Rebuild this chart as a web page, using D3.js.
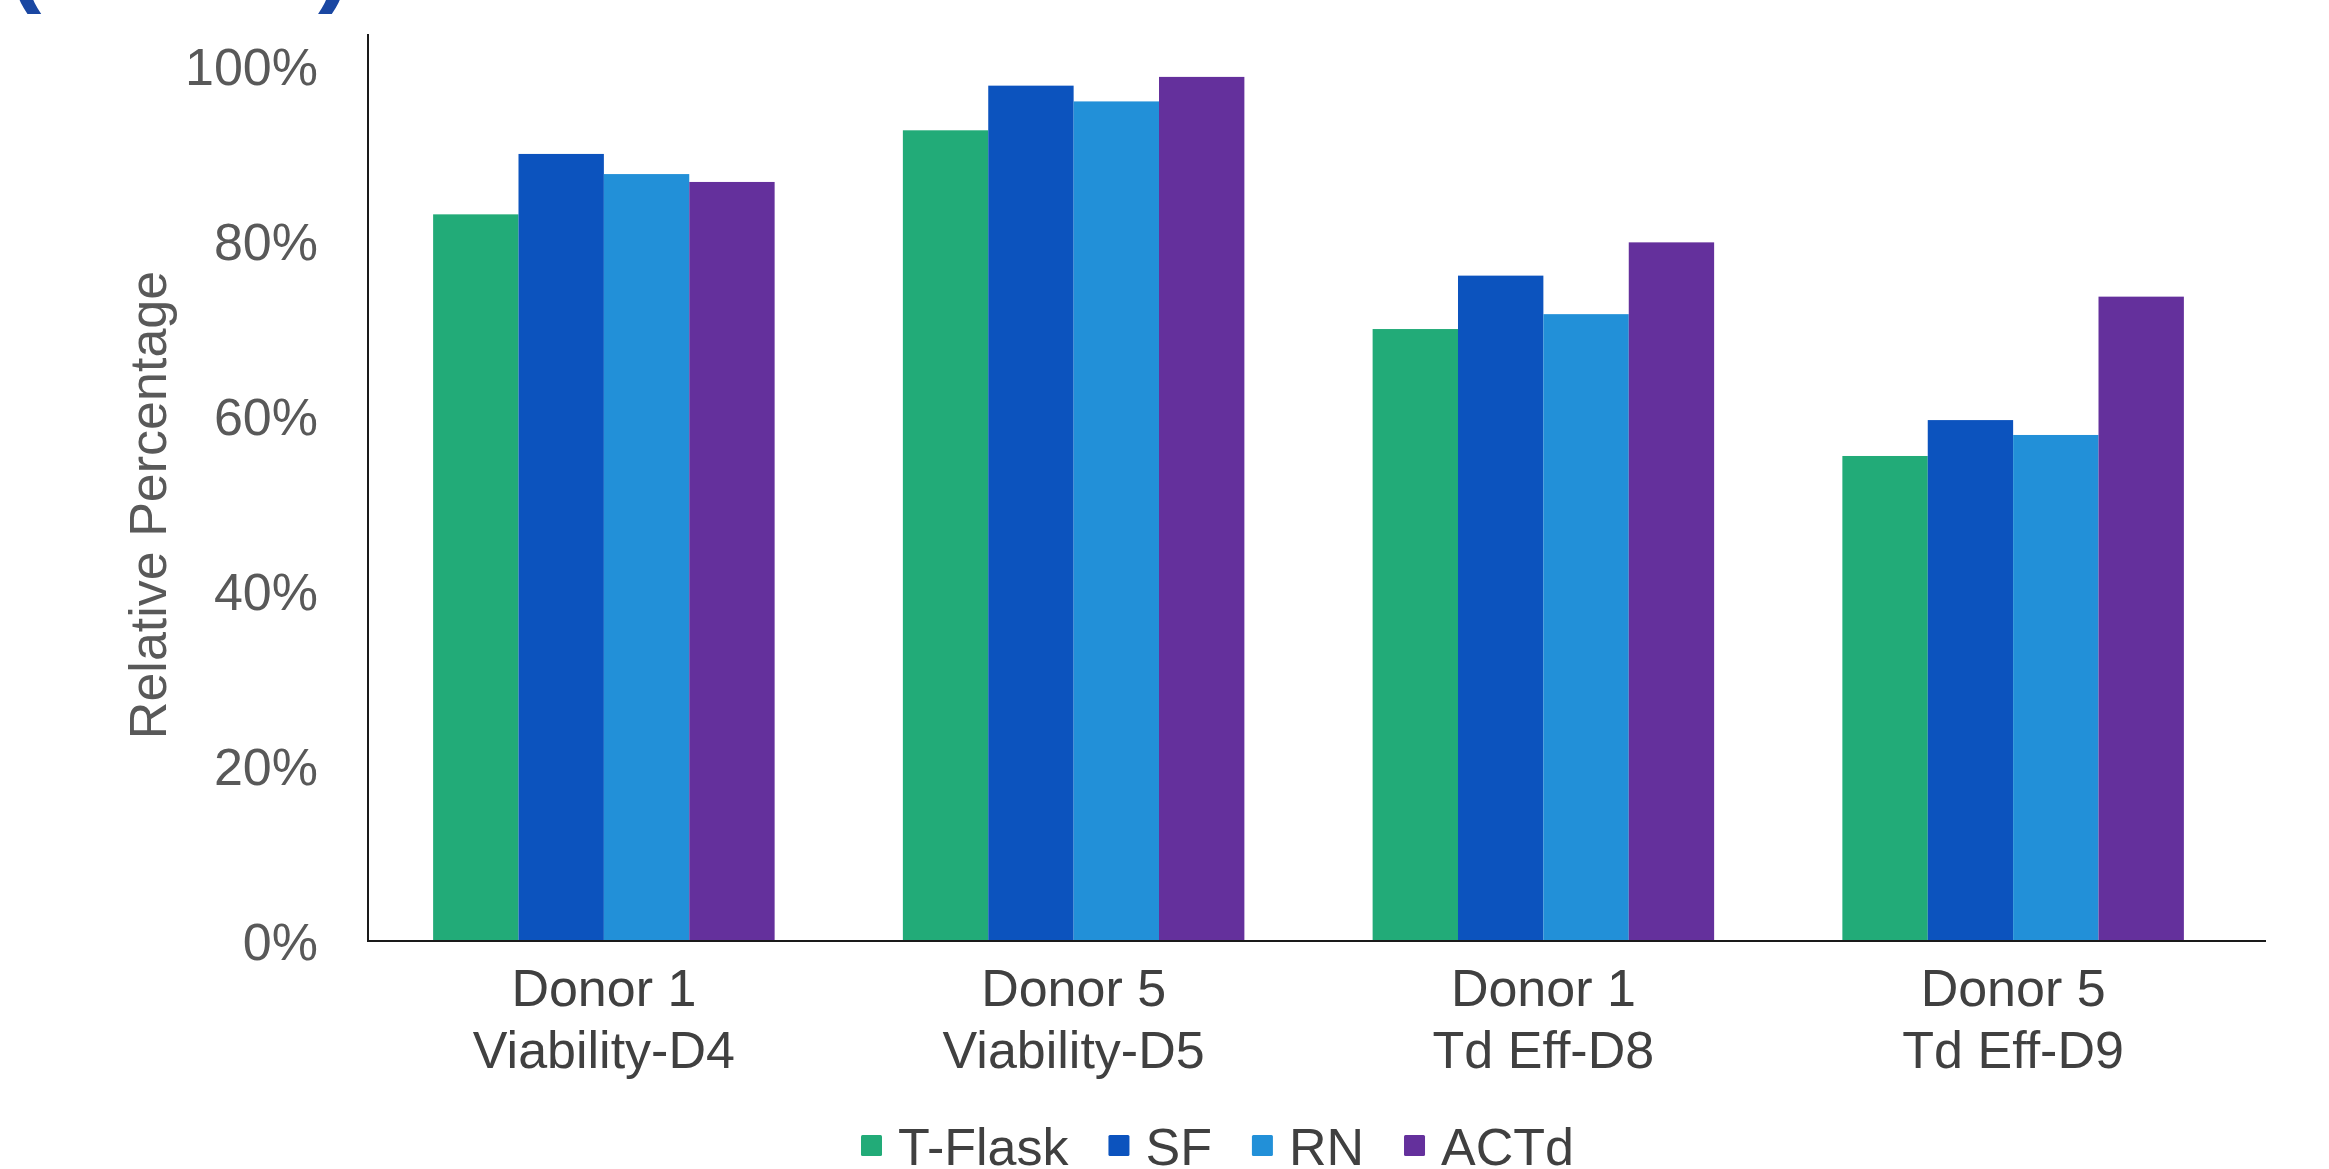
<!DOCTYPE html>
<html>
<head>
<meta charset="utf-8">
<script src="https://cdn.jsdelivr.net/npm/d3@7/dist/d3.min.js"></script>
<style>
  html, body { margin: 0; padding: 0; background: #ffffff; }
  svg { display: block; }
  text { font-family: "Liberation Sans", Arial, sans-serif; }
</style>
</head>
<body>
<div id="chart"></div>
<script>
// Group labels (two lines each) along the x axis
const categories = ["D1-V4", "D5-V5", "D1-T8", "D5-T9"];
const categoryLines = [
  ["Donor 1", "Viability-D4"],
  ["Donor 5", "Viability-D5"],
  ["Donor 1", "Td Eff-D8"],
  ["Donor 5", "Td Eff-D9"]
];

// Culture systems compared in every group
const seriesNames = ["T-Flask", "SF", "RN", "ACTd"];
const seriesColors = ["#22ab78", "#0c53be", "#2290d8", "#64309c"];

// Relative percentages, one array per system, in category order
const tFlask = [0.830, 0.926, 0.699, 0.554];
const sf     = [0.899, 0.977, 0.760, 0.595];
const rn     = [0.876, 0.959, 0.716, 0.578];
const actd   = [0.867, 0.987, 0.798, 0.736];
const seriesValues = [tFlask, sf, rn, actd];

// Y axis tick values
const yTicks = [0, 0.2, 0.4, 0.6, 0.8, 1.0];

const W = 2329, H = 1169;
const plot = { left: 368, right: 2266, top: 34, bottom: 941, bandLeft: 369, bandRight: 2248 };

const svg = d3.select("#chart").append("svg")
  .attr("width", W).attr("height", H);

// Panel tag at the top edge (only the lower ends of the brackets fall inside the frame)
const tagColor = "#1a47a2";
svg.append("text").attr("x", 8).attr("y", -7)
  .attr("font-size", 100).attr("font-weight", "bold").attr("fill", tagColor).text("(");
svg.append("text").attr("x", 318).attr("y", -7)
  .attr("font-size", 100).attr("font-weight", "bold").attr("fill", tagColor).text(")");

const y = d3.scaleLinear().domain([0, 1.036]).range([plot.bottom, plot.top]);

const x0 = d3.scaleBand().domain(categories)
  .range([plot.bandLeft, plot.bandRight])
  .paddingInner(0.273).paddingOuter(0.1365);

const x1 = d3.scaleBand().domain(seriesNames)
  .range([0, x0.bandwidth()]).padding(0);

// Bars
const rows = categories.map((c, i) => ({
  cat: c,
  vals: seriesNames.map((s, j) => ({ name: s, value: seriesValues[j][i], color: seriesColors[j] }))
}));

const groups = svg.append("g").selectAll("g").data(rows).join("g")
  .attr("transform", d => `translate(${x0(d.cat)},0)`);

groups.selectAll("rect").data(d => d.vals).join("rect")
  .attr("x", d => x1(d.name))
  .attr("width", x1.bandwidth())
  .attr("y", d => y(d.value))
  .attr("height", d => y(0) - y(d.value))
  .attr("fill", d => d.color);

// Y axis: labels only, plus the vertical rule
const yAxis = d3.axisLeft(y).tickValues(yTicks).tickFormat(d3.format(".0%")).tickSize(0).tickPadding(0);
const yg = svg.append("g").attr("transform", `translate(${plot.left - 50},0)`).call(yAxis);
yg.select(".domain").remove();
yg.selectAll("text")
  .attr("font-size", 52).attr("fill", "#595959")
  .attr("font-family", "Liberation Sans, Arial, sans-serif")
  .attr("dy", "0.36em");

svg.append("line")
  .attr("x1", plot.left).attr("x2", plot.left)
  .attr("y1", plot.top).attr("y2", plot.bottom + 1)
  .attr("stroke", "#1a1a1a").attr("stroke-width", 2);

// X axis rule and two-line group labels
svg.append("line")
  .attr("x1", plot.left).attr("x2", plot.right)
  .attr("y1", plot.bottom).attr("y2", plot.bottom)
  .attr("stroke", "#1a1a1a").attr("stroke-width", 2);

const xl = svg.append("g").selectAll("text").data(categories).join("text")
  .attr("x", d => x0(d) + x0.bandwidth() / 2)
  .attr("text-anchor", "middle")
  .attr("font-size", 52).attr("fill", "#404040");
xl.append("tspan").attr("x", d => x0(d) + x0.bandwidth() / 2).attr("y", 1006)
  .text((d, i) => categoryLines[i][0]);
xl.append("tspan").attr("x", d => x0(d) + x0.bandwidth() / 2).attr("y", 1068)
  .text((d, i) => categoryLines[i][1]);

// Y axis title
svg.append("text")
  .attr("transform", "translate(166,505) rotate(-90)")
  .attr("text-anchor", "middle")
  .attr("font-size", 52).attr("fill", "#595959")
  .text("Relative Percentage");

// Legend
const legend = svg.append("g");
let lx = 861;
const sw = 21, gapText = 16, gapItem = 40, legendBase = 1165;
seriesNames.forEach((s, i) => {
  legend.append("rect").attr("x", lx).attr("y", legendBase - 30).attr("width", sw).attr("height", sw)
    .attr("rx", 1.5).attr("fill", seriesColors[i]);
  const t = legend.append("text").attr("x", lx + sw + gapText).attr("y", legendBase)
    .attr("font-size", 52).attr("fill", "#404040").text(s);
  lx += sw + gapText + t.node().getComputedTextLength() + gapItem;
});
</script>
</body>
</html>
